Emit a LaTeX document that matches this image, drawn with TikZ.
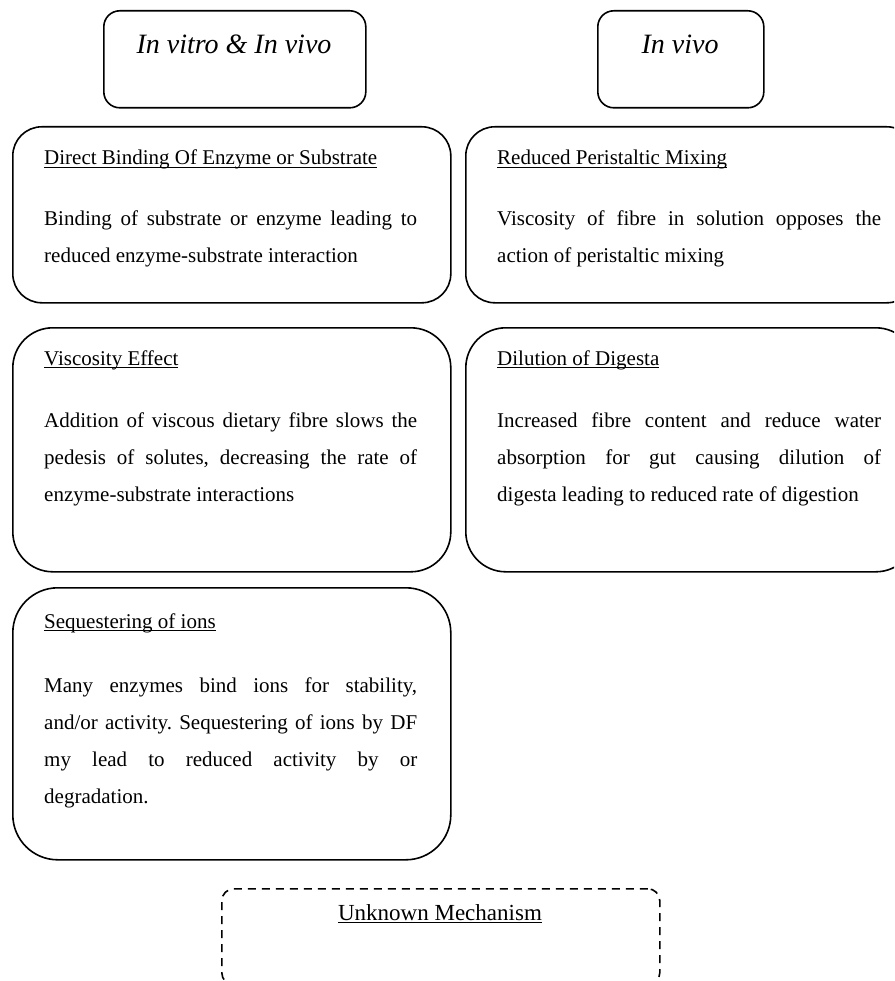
\documentclass[tikz,border=0pt]{standalone}
\usepackage{fontspec}
\setmainfont{Liberation Serif}
\newcommand\myul[1]{\setbox0\hbox{#1}\rlap{\rule[-2.8pt]{\wd0}{1.1pt}}\box0}
\begin{document}
\frenchspacing
\hyphenpenalty=10000
\begin{tikzpicture}[x=1pt,y=-1pt,
  box/.style={draw, line width=1.6pt, anchor=north west, inner sep=0pt},
  head/.style={anchor=base west, inner sep=0pt, font=\fontsize{21}{37}\selectfont},
  body/.style={anchor=base west, inner sep=0pt, text width=#1, align=justify,
    font=\fontsize{21}{37}\selectfont},
  ttl/.style={anchor=base, inner sep=0pt, font=\fontsize{28}{34}\selectfont\itshape}]
\useasboundingbox (0,0) rectangle (894,981);
\clip (0,0) rectangle (894,981);
% top boxes
\node[box, minimum width=262pt, minimum height=97pt, rounded corners=16pt] (tA) at (103,10) {};
\node[box, minimum width=166pt, minimum height=97pt, rounded corners=16pt] (tB) at (597,10) {};
\node[ttl] (tAt) at (234,54) {In vitro \& In vivo};
\node[ttl] (tBt) at (680,54) {In vivo};
% row 1
\node[box, minimum width=438pt, minimum height=176pt, rounded corners=29pt] (dbind) at (12,126) {};
\node[box, minimum width=450pt, minimum height=176pt, rounded corners=29pt] (peri) at (465,126) {};
\node[head] (dbindh) at (44,165) {\myul{Direct Binding Of Enzyme or Substrate}};
\node[body=373pt] (dbindb) at (44,226) {Binding of substrate or enzyme leading to\linebreak reduced enzyme-substrate interaction};
\node[head] (perih) at (497,165) {\myul{Reduced Peristaltic Mixing}};
\node[body=384pt] (perib) at (497,226) {Viscosity of fibre in solution opposes the\linebreak action of peristaltic mixing};
% row 2
\node[box, minimum width=438pt, minimum height=244pt, rounded corners=40pt] (visc) at (12,327) {};
\node[box, minimum width=450pt, minimum height=244pt, rounded corners=40pt] (dil) at (465,327) {};
\node[head] (visch) at (44,365) {\myul{Viscosity Effect}};
\node[body=373pt] (viscb) at (44,427) {Addition of viscous dietary fibre slows the\linebreak pedesis of solutes, decreasing the rate of\linebreak enzyme-substrate interactions};
\node[head] (dilh) at (497,365) {\myul{Dilution of Digesta}};
\node[body=384pt] (dilb) at (497,427) {Increased fibre content and reduce water\linebreak absorption for gut causing dilution of\linebreak digesta leading to reduced rate of digestion};
% row 3
\node[box, minimum width=438pt, minimum height=272pt, rounded corners=45pt] (seq) at (12,587) {};
\node[head] (seqh) at (44,628) {\myul{Sequestering of ions}};
\node[body=373pt] (seqb) at (44,692) {Many enzymes bind ions for stability,\linebreak and/or activity. Sequestering of ions by DF\linebreak my lead to reduced activity by or\linebreak degradation.};
% unknown
\node[box, dash pattern=on 8pt off 6pt, minimum width=438pt, minimum height=96pt, rounded corners=12pt] (unk) at (221,888) {};
\node[anchor=base, inner sep=0pt, font=\fontsize{23}{28}\selectfont] (unkt) at (440,920) {\myul{Unknown Mechanism}};
\end{tikzpicture}
\end{document}
